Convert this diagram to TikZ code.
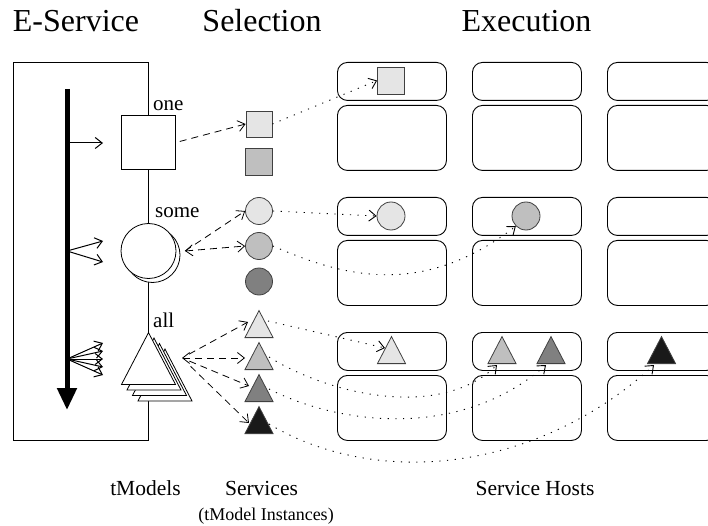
\documentclass[tikz,border=0pt]{standalone}
\usepackage{fontspec}
\setmainfont{Liberation Serif}
\usetikzlibrary{positioning,shapes,arrows.meta}

\definecolor{gone}{gray}{0.9}
\definecolor{gtwo}{gray}{0.75}
\definecolor{gthree}{gray}{0.5}
\definecolor{gfour}{gray}{0.1}

\begin{document}
\begin{tikzpicture}
  [x=1pt,y=-1pt,>={Straight Barb[length=7pt,width=11pt]},
   every node/.style={inner sep=0pt},
   title/.style={font=\fontsize{32}{36}\selectfont, anchor=base},
   caption/.style={font=\fontsize{21.5}{24}\selectfont, anchor=base},
   small/.style={font=\fontsize{18}{20}\selectfont, anchor=base},
   mult/.style={font=\fontsize{21}{24}\selectfont, anchor=base west},
   tmodel/.style={draw, fill=white, line width=0.8pt},
   svc/.style={draw=black!75, line width=0.8pt},
   tri/.style={isosceles triangle, isosceles triangle apex angle=55, shape border rotate=90,
     anchor=south, minimum width=#1, minimum height=#1},
   host/.style={draw, rounded corners=10pt, line width=0.9pt, anchor=north west, minimum width=109pt},
   sel/.style={dash pattern=on 7pt off 5pt, line width=0.8pt},
   exe/.style={dash pattern=on 1.2pt off 6.5pt, line width=0.9pt, ->},
   fan/.style={line width=1pt, ->}]
  \useasboundingbox (0,0) rectangle (708,526);
  \clip (0,0) rectangle (708,526);

  % headings
  \node[title] (heserv) at (76,32) {E-Service};
  \node[title] (hsel) at (262,32) {Selection};
  \node[title] (hexe) at (526.5,32) {Execution};
  \node[caption] (ltm) at (145.5,495) {tModels};
  \node[caption] (lsvc) at (261.5,495) {Services};
  \node[small] (linst) at (266,520) {(tModel Instances)};
  \node[caption] (lhost) at (535,495) {Service Hosts};

  % e-service box and flow
  \node[draw, line width=0.8pt, minimum width=135pt, minimum height=378pt] (es) at (80.5,251) {};
  \coordinate (top) at (67,89);
  \coordinate (bot) at (67,410);
  \draw[line width=5pt, -{Triangle[length=22pt,width=19pt]}] (top) -- (bot);
  \coordinate (spone) at (67,143);
  \coordinate (spsome) at (67,251);
  \coordinate (spall) at (67,359);
  \foreach \i/\y in {1/143, 2/241, 3/262, 4/343, 5/351, 6/359, 7/367, 8/375}
    \coordinate (f\i) at (103,\y);
  \foreach \from/\to in {spone/f1, spsome/f2, spsome/f3, spall/f4, spall/f5, spall/f6, spall/f7, spall/f8}
    \draw[fan] (\from) -- (\to);

  % tModels
  \node[tmodel, minimum size=54pt] (one) at (148.5,142.5) {};
  \node[tmodel, circle, minimum size=55pt] (someb) at (152.5,255) {};
  \node[tmodel, circle, minimum size=55pt] (some) at (148.5,251) {};
  \foreach \i in {3,2,1}
    \node[tmodel, tri=52pt] (all\i) at ({148.5+5.5*\i},{385+5.5*\i}) {};
  \node[tmodel, tri=52pt] (all) at (148.5,385) {};
  \node[mult] (lone) at (153,111) {one};
  \node[mult] (lsome) at (155,218) {some};
  \node[mult] (lall) at (153,327) {all};

  % services
  \node[svc, fill=gone, minimum size=26pt] (s1) at (259,124) {};
  \node[svc, fill=gtwo, minimum size=27pt] (s2) at (259,161.5) {};
  \node[svc, circle, fill=gone, minimum size=27pt] (c1) at (259,211) {};
  \node[svc, circle, fill=gtwo, minimum size=27pt] (c2) at (259,246) {};
  \node[svc, circle, fill=gthree, minimum size=27pt] (c3) at (259,281.5) {};
  \node[svc, tri=27pt, fill=gone] (t1) at (259,338) {};
  \node[svc, tri=27pt, fill=gtwo] (t2) at (259,370) {};
  \node[svc, tri=27pt, fill=gthree] (t3) at (259,402) {};
  \node[svc, tri=27pt, fill=gfour] (t4) at (259,434) {};

  % service hosts
  \foreach \x/\c in {337/a, 472/b, 607/c}
    \foreach \y/\r in {62/1, 197/2, 332/3} {
      \node[host, minimum height=38pt] (h\c\r) at (\x,\y) {};
      \node[host, minimum height=65pt] (k\c\r) at (\x,\y+43) {};
    }
  \node[svc, fill=gone, minimum size=27pt] (hs) at (391,80.5) {};
  \node[svc, circle, fill=gone, minimum size=28pt] (hc1) at (391,216) {};
  \node[svc, circle, fill=gtwo, minimum size=28pt] (hc2) at (526,216) {};
  \node[svc, tri=27pt, fill=gone] (ht1) at (391.5,364) {};
  \node[svc, tri=27pt, fill=gtwo] (ht2) at (502,364) {};
  \node[svc, tri=27pt, fill=gthree] (ht3) at (551,364) {};
  \node[svc, tri=27pt, fill=gfour] (ht4) at (661.5,364) {};

  % selection
  \coordinate (someout) at (185,251);
  \coordinate (allout) at (182,358);
  \foreach \n/\x/\y in {t1i/248/322, t2i/245/358, t3i/249/386, t4i/249/423,
                        t1o/268/321, t2o/269/357, t3o/269/389, t4o/269/424,
                        ht1i/385/348, ht2i/497/365, ht3i/546/365, ht4i/654/365}
    \coordinate (\n) at (\x,\y);
  \draw[sel, ->, shorten <=4pt] (one.east) -- (s1.west);
  \draw[sel, ->] (someout) -- (c1.west);
  \draw[sel, <->] (someout) -- (c2.west);
  \draw[sel, ->, shorten <=8pt] (allout) -- (t1i);
  \draw[sel, <->] (allout) -- (t2i);
  \draw[sel, ->, shorten <=8pt] (allout) -- (t3i);
  \draw[sel, ->, shorten <=12pt] (allout) -- (t4i);

  % execution
  \draw[exe] (s1.east) -- (hs.west);
  \draw[exe] (c1.east) -- (hc1.west);
  \draw[exe] (c2.east) .. controls (340,275) and (420,300) .. (hc2.south west);
  \draw[exe] (t1o) -- (ht1i);
  \draw[exe] (t2o) .. controls (330,395) and (440,420) .. (ht2i);
  \draw[exe] (t3o) .. controls (340,425) and (460,440) .. (ht3i);
  \draw[exe] (t4o) .. controls (380,490) and (540,470) .. (ht4i);
\end{tikzpicture}
\end{document}
